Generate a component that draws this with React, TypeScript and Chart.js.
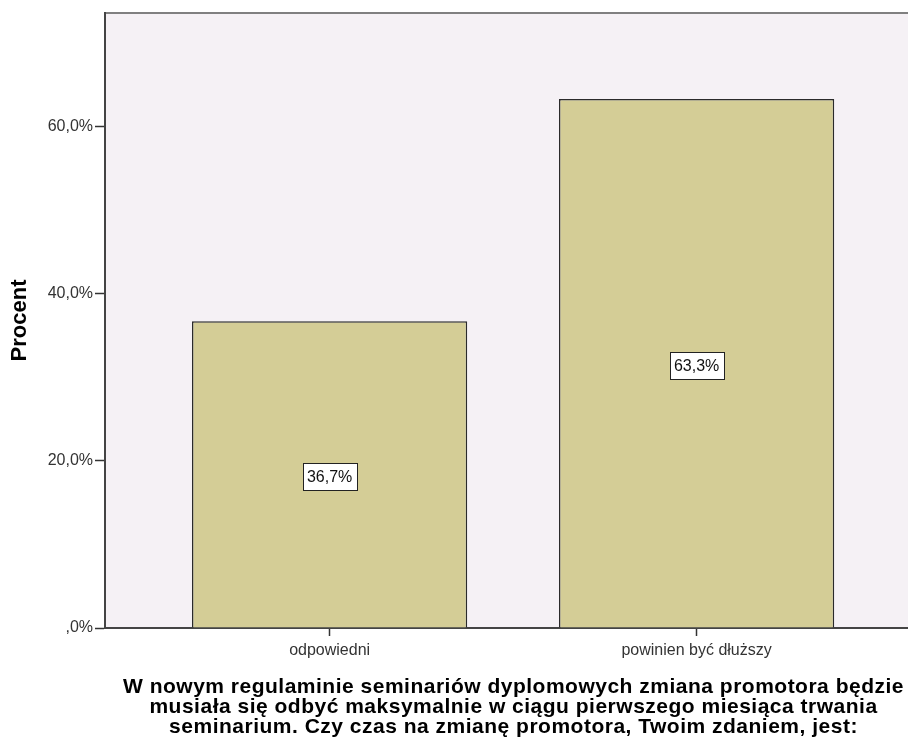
import React, { useEffect, useRef } from "react";
import { Chart, registerables } from "chart.js";

Chart.register(...registerables);

const categories = ["odpowiedni", "powinien być dłuższy"];
const percentValues = [36.7, 63.3];
const yTickValues = [0, 20, 40, 60];
const yAxisTitle = "Procent";
const xAxisTitleLines = [
  "W nowym regulaminie seminariów dyplomowych zmiana promotora będzie",
  "musiała się odbyć maksymalnie w ciągu pierwszego miesiąca trwania",
  "seminarium. Czy czas na zmianę promotora, Twoim zdaniem, jest:",
];

const FONT = '"Liberation Sans", Arial, sans-serif';

const fmt = (v: number) =>
  v === 0 ? ",0%" : v.toFixed(1).replace(".", ",") + "%";

const bgPlugin = {
  id: "plotBg",
  beforeDraw(chart: any) {
    const { ctx, chartArea } = chart;
    ctx.save();
    ctx.fillStyle = "#F5F1F5";
    ctx.fillRect(
      chartArea.left,
      chartArea.top,
      chartArea.right - chartArea.left,
      chartArea.bottom - chartArea.top
    );
    ctx.strokeStyle = "#808080";
    ctx.lineWidth = 2;
    ctx.beginPath();
    ctx.moveTo(chartArea.left, chartArea.top);
    ctx.lineTo(chartArea.right, chartArea.top);
    ctx.stroke();
    ctx.restore();
  },
};

const labelPlugin = {
  id: "barLabels",
  afterDatasetsDraw(chart: any) {
    const { ctx } = chart;
    const meta = chart.getDatasetMeta(0);
    ctx.save();
    ctx.font = `16px ${FONT}`;
    meta.data.forEach((bar: any, i: number) => {
      const { x, y, base } = bar.getProps(["x", "y", "base"], true);
      const cy = (y + base) / 2 + 2.5;
      const text = fmt(percentValues[i]);
      const w = Math.round(ctx.measureText(text).width + 9);
      const h = 27;
      const left = Math.round(x - w / 2) + 0.5;
      const top = Math.round(cy - h / 2) + 0.5;
      ctx.fillStyle = "#FFFFFF";
      ctx.fillRect(left, top, w, h);
      ctx.strokeStyle = "#222222";
      ctx.lineWidth = 1;
      ctx.strokeRect(left, top, w, h);
      ctx.fillStyle = "#111111";
      ctx.textAlign = "center";
      ctx.textBaseline = "middle";
      ctx.fillText(text, x, cy + 1);
    });
    ctx.restore();
  },
};

const xTitlePlugin = {
  id: "xTitle",
  afterDraw(chart: any) {
    const { ctx, chartArea } = chart;
    const xs = chart.scales.x;
    ctx.save();
    ctx.font = `bold 21px ${FONT}`;
    if ("letterSpacing" in ctx) (ctx as any).letterSpacing = "0.5px";
    ctx.fillStyle = "#000000";
    ctx.textAlign = "center";
    ctx.textBaseline = "alphabetic";
    const cx = (chartArea.left + chartArea.right) / 2 + 7;
    const firstBaseline = xs.bottom - 47;
    xAxisTitleLines.forEach((line, i) => {
      ctx.fillText(line, cx, firstBaseline + i * 20);
    });
    ctx.restore();
  },
};

export default function App() {
  const canvasRef = useRef<HTMLCanvasElement | null>(null);

  useEffect(() => {
    if (!canvasRef.current) return;
    const chart = new Chart(canvasRef.current, {
      type: "bar",
      data: {
        datasets: [
          {
            data: percentValues.map((v, i) => ({ x: i, y: v })),
            backgroundColor: "#D4CD96",
            borderColor: "#2a2a2a",
            borderWidth: 1.5,
            barPercentage: 0.75,
            categoryPercentage: 1,
          },
        ],
      },
      options: {
        responsive: false,
        animation: false,
        layout: { padding: { top: 13, right: 0, left: 0, bottom: 0 } },
        plugins: {
          legend: { display: false },
          tooltip: { enabled: false },
        },
        scales: {
          x: {
            type: "linear",
            offset: false,
            min: -0.612,
            max: 1.576,
            afterBuildTicks: (s: any) => {
              s.ticks = categories.map((_, i) => ({ value: i }));
            },
            afterFit: (s: any) => {
              s.height = 112;
            },
            ticks: {
              callback: (v: any) => categories[v] ?? "",
              font: { size: 16, family: FONT },
              color: "#333333",
              padding: 5,
              autoSkip: false,
              maxRotation: 0,
            },
            grid: {
              offset: false,
              drawOnChartArea: false,
              tickLength: 8,
              color: "#333333",
              tickWidth: 1.5,
            },
            border: { color: "#444444", width: 2 },
            title: { display: false },
          },
          y: {
            min: 0,
            max: 73.6,
            afterBuildTicks: (s: any) => {
              s.ticks = yTickValues.map((v) => ({ value: v }));
            },
            afterFit: (s: any) => {
              s.width = 105;
            },
            ticks: {
              callback: (v: any) => fmt(Number(v)),
              font: { size: 16, family: FONT },
              color: "#333333",
              padding: 2,
            },
            grid: {
              drawOnChartArea: false,
              tickLength: 10,
              color: "#333333",
              tickWidth: 1.5,
            },
            border: { color: "#444444", width: 2 },
            title: {
              display: true,
              text: yAxisTitle,
              color: "#000000",
              font: { size: 22, weight: "bold", family: FONT },
              padding: { top: 7, bottom: 0 },
            },
          },
        },
      },
      plugins: [bgPlugin, labelPlugin, xTitlePlugin],
    } as any);
    return () => chart.destroy();
  }, []);

  return (
    <div style={{ position: "fixed", left: 0, top: 0, width: 908, height: 740, background: "#FFFFFF" }}>
      <canvas ref={canvasRef} width={908} height={740} style={{ display: "block" }} />
    </div>
  );
}
